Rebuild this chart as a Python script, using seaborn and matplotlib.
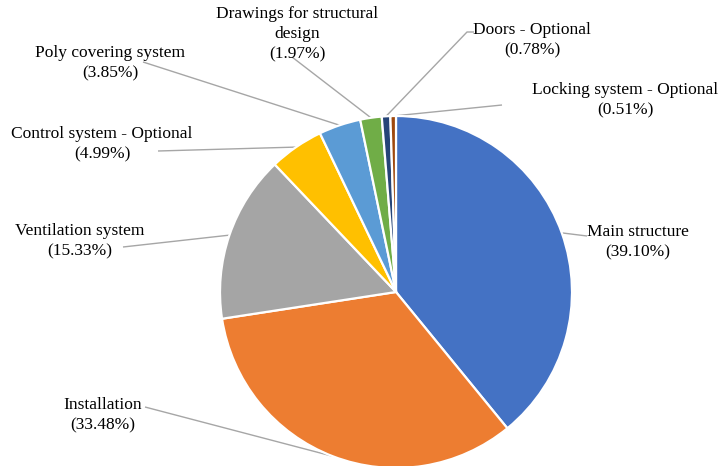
import numpy as np
import matplotlib
matplotlib.use("Agg")
import matplotlib.pyplot as plt
import seaborn as sns

# ---- data ----
categories = ["Main structure", "Installation", "Ventilation system",
              "Control system - Optional", "Poly covering system",
              "Drawings for structural\ndesign", "Doors - Optional",
              "Locking system - Optional"]
values = [39.10, 33.48, 15.33, 4.99, 3.85, 1.97, 0.78, 0.51]
pct_labels = ["(39.10%)", "(33.48%)", "(15.33%)", "(4.99%)", "(3.85%)",
              "(1.97%)", "(0.78%)", "(0.51%)"]
colors_hex = ["#4472C4", "#ED7D31", "#A5A5A5", "#FFC000", "#5B9BD5",
              "#70AD47", "#264478", "#9E480E"]

sns.set_theme(style="white")
plt.rcParams['font.family'] = ['Liberation Serif', 'DejaVu Serif']
palette = sns.color_palette(colors_hex)

W, H = 727, 466
fig = plt.figure(figsize=(W / 100, H / 100), dpi=100)
ax = fig.add_axes([0, 0, 1, 1])

def Y(ypx):
    return H - ypx

cx, cy, R = 396, Y(292), 176
wedges, _ = ax.pie(values, colors=palette, startangle=90, counterclock=False,
                   center=(cx, cy), radius=R,
                   wedgeprops=dict(edgecolor="white", linewidth=1.6))

ax.set_xlim(0, W)
ax.set_ylim(0, H)
ax.set_aspect("auto")
ax.axis("off")

# label layout (pixel positions of text centres and leader start points)
text_pos = [(638, 242), (103, 415), (80, 241), (102, 144), (110, 63),
            (297, 34), (532, 40), (625, 100)]
line_start = [[(587, 236)], [(145, 407)], [(123, 247)], [(158, 151)],
              [(143, 62)], [(292, 57)], [(474, 32), (467, 32)], [(502, 105)]]

line_col = "#A6A6A6"
for w, cat, pct, (tx, ty), pts in zip(wedges, categories, pct_labels,
                                        text_pos, line_start):
    mid = np.deg2rad((w.theta1 + w.theta2) / 2)
    ex, ey = cx + R * np.cos(mid), cy + R * np.sin(mid)
    xs = [p[0] for p in pts] + [ex]
    ys = [Y(p[1]) for p in pts] + [ey]
    ax.plot(xs, ys, color=line_col, lw=1.0, solid_capstyle="butt", zorder=0)
    ax.text(tx, Y(ty), f"{cat}\n{pct}", ha="center", va="center",
            fontsize=12.5, linespacing=1.35, color="black")

fig.savefig("out.png", dpi=100, facecolor="white")
